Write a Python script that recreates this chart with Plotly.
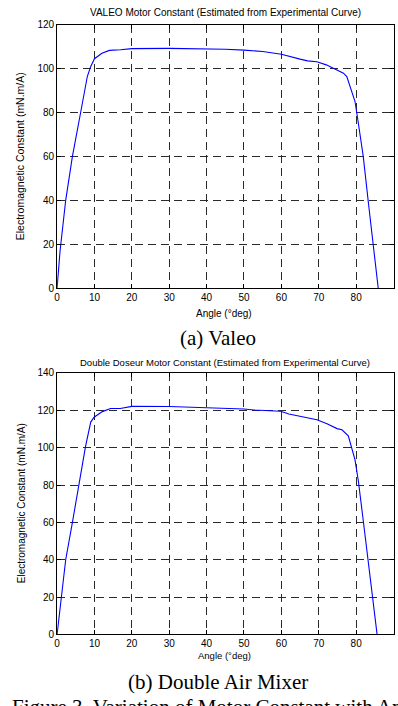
import plotly.graph_objects as go

# ---- data ----
valeo_angle = [0, 0.8, 2.3, 4.1, 6.3, 8.1, 9.0, 10.0, 12.0, 14.0, 17.0, 20.0, 30.0, 40.0,
               45.0, 50.0, 55.0, 60.0, 62.0, 65.0, 67.0, 69.5, 72.0, 75.0, 76.6, 77.5,
               78.8, 79.7, 80.6, 81.9, 83.2, 84.6, 85.9]
valeo_k = [0, 17, 40, 60, 80, 96.5, 101, 104.5, 107, 108.3, 108.6, 109.1, 109.2, 109.1,
           108.8, 108.4, 107.8, 106.5, 105.5, 104.3, 103.5, 103.1, 101.7, 99.0, 97.9, 96.4,
           89.7, 85.0, 75.0, 60.0, 40.0, 20.0, 0]

dd_angle = [0, 1.0, 2.3, 4.1, 5.9, 7.6, 9.0, 9.9, 12.1, 14.3, 16.9, 20.0, 30.0, 38.6, 43.0,
            50.0, 52.7, 59.8, 62.0, 69.5, 72.2, 74.9, 76.2, 77.9, 79.7, 80.6, 81.9, 83.2,
            84.4, 85.6]
dd_k = [0, 19, 40, 60, 80.3, 100.5, 113.7, 116.3, 119.3, 121, 121, 122.1, 122, 121.6, 121.2,
        120.7, 120.2, 119.5, 118, 114.9, 112.8, 110.2, 109.6, 106.3, 93.5, 82, 61, 40, 19, 0]

title_a = "VALEO Motor Constant (Estimated from Experimental Curve)"
title_b = "Double Doseur Motor Constant (Estimated from Experimental Curve)"
xlabel = "Angle (°deg)"
ylabel = "Electromagnetic Constant (mN.m/A)"
caption_a = "(a) Valeo"
caption_b = "(b) Double Air Mixer"
figure_caption = "Figure 3. Variation of Motor Constant with Angle"

W, H = 398, 706
SANS = "Liberation Sans, Arial, sans-serif"
SERIF = "Liberation Serif, Times New Roman, serif"

def px(x):
    return x / W

def py(y):
    return 1 - y / H

fig = go.Figure()
fig.add_trace(go.Scatter(x=valeo_angle, y=valeo_k, mode="lines",
                         line=dict(color="#0000FF", width=1.1), xaxis="x", yaxis="y",
                         showlegend=False, hoverinfo="skip"))
fig.add_trace(go.Scatter(x=dd_angle, y=dd_k, mode="lines",
                         line=dict(color="#0000FF", width=1.1), xaxis="x2", yaxis="y2",
                         showlegend=False, hoverinfo="skip"))

xdom = [px(54.5), px(393.5)]
axis_common = dict(showline=True, linecolor="black", linewidth=1, mirror="ticks",
                   ticks="inside", ticklen=4, tickcolor="black",
                   showgrid=True, gridcolor="#2a2a2a", gridwidth=1, griddash="8px,5px",
                   zeroline=False, tickfont=dict(family=SANS, size=10, color="black"),
                   fixedrange=True)

fig.update_layout(
    width=W, height=H, autosize=False,
    margin=dict(l=0, r=0, t=0, b=0),
    paper_bgcolor="white", plot_bgcolor="white",
    xaxis=dict(domain=xdom, range=[0, 90], dtick=10, anchor="y", **axis_common),
    yaxis=dict(domain=[py(287), py(19)], range=[0, 120], dtick=20, anchor="x", **axis_common),
    xaxis2=dict(domain=xdom, range=[0, 90], dtick=10, anchor="y2", **axis_common),
    yaxis2=dict(domain=[py(639.3), py(373.3)], range=[0, 140], dtick=20, anchor="x2",
                **axis_common),
)

ann = []
def text(x, y, s, size, family=SANS, angle=0, xanchor="center", yanchor="middle"):
    ann.append(dict(x=px(x), y=py(y), xref="paper", yref="paper", text=s, showarrow=False,
                    font=dict(family=family, size=size, color="black"), textangle=angle,
                    xanchor=xanchor, yanchor=yanchor))

text(224, 6.5, title_a, 10)
text(224, 363, title_b, 9.5)
text(223, 313, xlabel, 10)
text(223, 661, xlabel, 9.5)
text(18, 153, ylabel, 10.5, angle=-90)
text(19, 506, ylabel, 10, angle=-90)
text(217, 338, caption_a, 21, family=SERIF)
text(216.5, 688, caption_b, 21, family=SERIF)
# partially visible caption line at the very bottom, as in the reference crop
text(7, 699, figure_caption, 21, family=SERIF, xanchor="left", yanchor="top")

fig.update_layout(annotations=ann)
fig.write_html("out.html")
